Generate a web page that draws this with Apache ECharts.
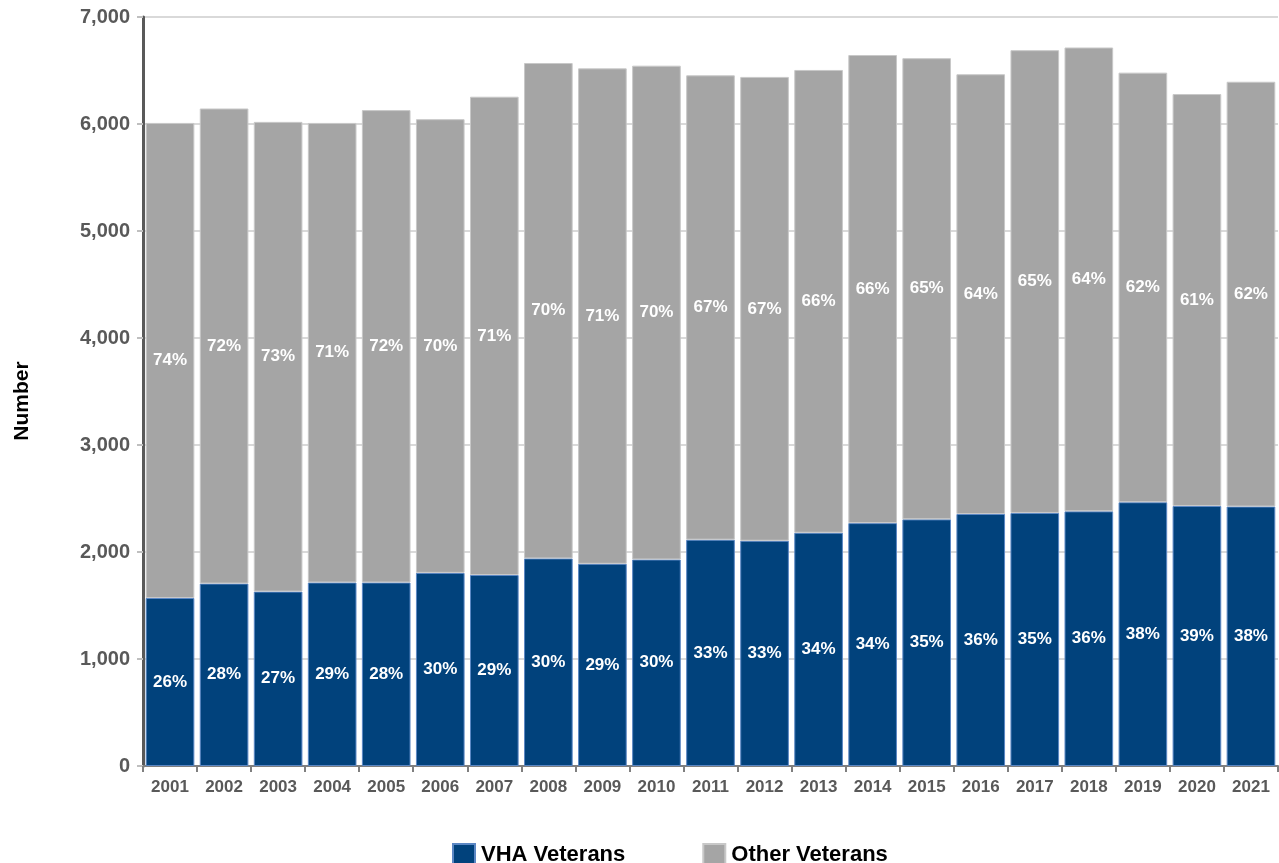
<!DOCTYPE html>
<html>
<head>
<meta charset="utf-8">
<script src="https://cdn.jsdelivr.net/npm/echarts@6/dist/echarts.min.js"></script>
<style>
html,body{margin:0;padding:0;background:#fff;}
#chart{width:1279px;height:863px;}
</style>
</head>
<body>
<div id="chart"></div>
<script>
const years = ['2001','2002','2003','2004','2005','2006','2007','2008','2009','2010','2011','2012','2013','2014','2015','2016','2017','2018','2019','2020','2021'];
const vhaVeterans = [1570,1705,1630,1715,1715,1805,1785,1940,1890,1930,2115,2105,2180,2270,2305,2355,2365,2380,2465,2430,2425];
const otherVeterans = [4440,4440,4390,4295,4415,4240,4470,4630,4630,4615,4340,4335,4325,4375,4310,4110,4325,4335,4015,3850,3970];
const vhaPct = [26,28,27,29,28,30,29,30,29,30,33,33,34,34,35,36,35,36,38,39,38];
const otherPct = [74,72,73,71,72,70,71,70,71,70,67,67,66,66,65,64,65,64,62,61,62];
const yTicks = [0,1000,2000,3000,4000,5000,6000,7000];

const ff = '"Liberation Sans", Arial, sans-serif';
const chart = echarts.init(document.getElementById('chart'));
chart.setOption({
  animation: false,
  backgroundColor: '#ffffff',
  grid: {left: 143, right: 1, top: 17, bottom: 97, containLabel: false},
  graphic: [{
    type: 'text', x: 22, y: 401, rotation: Math.PI / 2,
    style: {text: 'Number', fontFamily: ff, fontWeight: 'bold', fontSize: 21, fill: '#000',
      align: 'center', verticalAlign: 'middle'}
  }],
  legend: {
    left: 447, top: 838, itemWidth: 22, itemHeight: 22, itemGap: 77,
    icon: 'rect',
    textStyle: {fontFamily: ff, fontWeight: 'bold', fontSize: 22, color: '#000', padding: [0,0,0,1]},
    data: ['VHA Veterans', 'Other Veterans']
  },
  xAxis: {
    type: 'category',
    data: years,
    axisLine: {lineStyle: {color: '#7f7f7f', width: 2}},
    axisTick: {show: true, length: 6, lineStyle: {color: '#7f7f7f', width: 2}},
    axisLabel: {interval: 0, fontFamily: ff, fontWeight: 'bold', fontSize: 17, color: '#595959', margin: 13}
  },
  yAxis: {
    type: 'value',
    min: yTicks[0], max: yTicks[yTicks.length-1], interval: 1000,
    axisLine: {show: true, lineStyle: {color: '#595959', width: 3}},
    axisTick: {show: true, length: 6, lineStyle: {color: '#bfbfbf', width: 2}},
    axisLabel: {fontFamily: ff, fontWeight: 'bold', fontSize: 20, color: '#595959', margin: 13,
      formatter: v => v.toLocaleString('en-US')},
    splitLine: {lineStyle: {color: '#d9d9d9', width: 2}}
  },
  series: [
    {
      name: 'VHA Veterans', type: 'bar', stack: 'total', barCategoryGap: '10%',
      data: vhaVeterans,
      itemStyle: {color: '#01427c', borderColor: '#5b87c4', borderWidth: 1},
      label: {show: true, position: 'inside', color: '#fff', fontFamily: ff, fontWeight: 'bold', fontSize: 17,
        formatter: p => vhaPct[p.dataIndex] + '%'}
    },
    {
      name: 'Other Veterans', type: 'bar', stack: 'total', barCategoryGap: '10%',
      data: otherVeterans,
      itemStyle: {color: '#a5a5a5', borderColor: '#c8c8c8', borderWidth: 1},
      label: {show: true, position: 'inside', color: '#fff', fontFamily: ff, fontWeight: 'bold', fontSize: 17,
        formatter: p => otherPct[p.dataIndex] + '%'}
    }
  ]
});
</script>
</body>
</html>
